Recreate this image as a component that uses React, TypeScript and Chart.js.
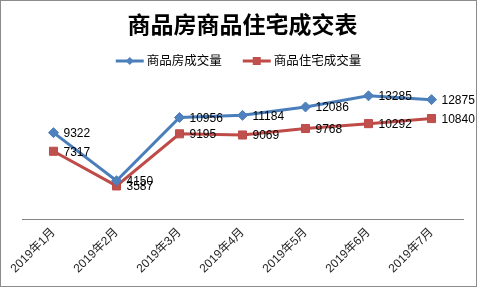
import React, { useEffect, useRef } from 'react';
import { Chart, registerables } from 'chart.js';

Chart.register(...registerables);

const TITLE = '商品房商品住宅成交表';
const CATEGORIES = ['2019年1月', '2019年2月', '2019年3月', '2019年4月', '2019年5月', '2019年6月', '2019年7月'];
const SERIES_NAMES = ['商品房成交量', '商品住宅成交量'];
const HOUSING_VALUES = [9322, 4150, 10956, 11184, 12086, 13285, 12875];
const RESIDENTIAL_VALUES = [7317, 3587, 9195, 9069, 9768, 10292, 10840];

const BLUE_LINE = '#4A7EBB';
const BLUE_FILL = '#4F81BD';
const RED_LINE = '#BE4B48';
const RED_FILL = '#C0504D';

const FONT_CJK = "'Liberation Sans', 'Noto Sans CJK SC', sans-serif";

const framePlugin = {
  id: 'frame',
  beforeDraw(chart: any) {
    const { ctx, width, height } = chart;
    ctx.save();
    ctx.fillStyle = '#ffffff';
    ctx.fillRect(0, 0, width, height);
    ctx.strokeStyle = '#8c8c8c';
    ctx.lineWidth = 1;
    ctx.strokeRect(0.5, 0.5, 476, 286);
    ctx.restore();
  },
};

const valueLabelPlugin = {
  id: 'valueLabels',
  afterDatasetsDraw(chart: any) {
    const { ctx } = chart;
    ctx.save();
    ctx.font = "12px 'Liberation Sans', sans-serif";
    ctx.fillStyle = '#000000';
    ctx.textAlign = 'left';
    ctx.textBaseline = 'middle';
    chart.data.datasets.forEach((ds: any, i: number) => {
      const meta = chart.getDatasetMeta(i);
      meta.data.forEach((pt: any, j: number) => {
        ctx.fillText(String(ds.data[j]), pt.x + 10, pt.y + 1);
      });
    });
    ctx.restore();
  },
};

const customLegendPlugin = {
  id: 'customLegend',
  afterDraw(chart: any) {
    const { ctx } = chart;
    const y = 61;
    const lineLen = 28;
    const gapText = 3;
    const gapItems = 21;
    ctx.save();
    ctx.font = `12.5px ${FONT_CJK}`;
    ctx.textBaseline = 'middle';
    ctx.textAlign = 'left';
    const items = chart.data.datasets.map((ds: any) => ({
      label: ds.label,
      line: ds.borderColor,
      fill: ds.pointBackgroundColor,
      style: ds.pointStyle,
      w: lineLen + gapText + ctx.measureText(ds.label).width,
    }));
    const total = items.reduce((s: number, it: any) => s + it.w, 0) + gapItems * (items.length - 1);
    let x = 238.5 - total / 2;
    items.forEach((it: any) => {
      ctx.strokeStyle = it.line;
      ctx.lineWidth = 3;
      ctx.beginPath();
      ctx.moveTo(x, y);
      ctx.lineTo(x + lineLen, y);
      ctx.stroke();
      ctx.fillStyle = it.fill;
      const cx = x + lineLen / 2;
      if (it.style === 'rectRot') {
        const r = 4;
        ctx.beginPath();
        ctx.moveTo(cx, y - r);
        ctx.lineTo(cx + r, y);
        ctx.lineTo(cx, y + r);
        ctx.lineTo(cx - r, y);
        ctx.closePath();
        ctx.fill();
      } else {
        ctx.fillRect(cx - 4, y - 4, 8, 8);
      }
      ctx.fillStyle = '#000000';
      ctx.fillText(it.label, x + lineLen + gapText, y + 1);
      x += it.w + gapItems;
    });
    ctx.restore();
  },
};

export default function App() {
  const ref = useRef<HTMLCanvasElement | null>(null);

  useEffect(() => {
    document.body.style.margin = '0';
    if (!ref.current) return;
    const chart = new Chart(ref.current, {
      type: 'line',
      data: {
        labels: CATEGORIES,
        datasets: [
          {
            label: SERIES_NAMES[0],
            data: HOUSING_VALUES,
            borderColor: BLUE_LINE,
            backgroundColor: BLUE_FILL,
            pointBackgroundColor: BLUE_FILL,
            pointBorderColor: BLUE_LINE,
            pointStyle: 'rectRot',
            pointRadius: 5,
            pointBorderWidth: 1,
            borderWidth: 3,
            tension: 0,
          },
          {
            label: SERIES_NAMES[1],
            data: RESIDENTIAL_VALUES,
            borderColor: RED_LINE,
            backgroundColor: RED_FILL,
            pointBackgroundColor: RED_FILL,
            pointBorderColor: RED_LINE,
            pointStyle: 'rect',
            pointRadius: 5.7,
            pointBorderWidth: 1,
            borderWidth: 3,
            tension: 0,
          },
        ],
      },
      options: {
        responsive: false,
        animation: false,
        devicePixelRatio: 1,
        layout: { padding: { left: 22, right: 21, top: 0, bottom: 8 } },
        plugins: {
          legend: { display: false },
          tooltip: { enabled: false },
          title: {
            display: true,
            text: TITLE,
            color: '#000000',
            font: { family: "'Noto Sans CJK SC', sans-serif", size: 23, weight: 'bold' },
            padding: { top: 10, bottom: 33 },
          },
        },
        scales: {
          x: {
            offset: true,
            grid: { display: false, drawTicks: false },
            border: { display: true, color: '#868686', width: 1 },
            ticks: {
              color: '#262626',
              font: { family: FONT_CJK, size: 12 },
              minRotation: 45,
              maxRotation: 45,
              padding: 6,
            },
          },
          y: {
            display: false,
            min: 0,
            max: 16000,
          },
        },
      },
      plugins: [framePlugin, valueLabelPlugin, customLegendPlugin],
    });
    return () => chart.destroy();
  }, []);

  return <canvas ref={ref} width={484} height={290} style={{ display: 'block' }} />;
}
